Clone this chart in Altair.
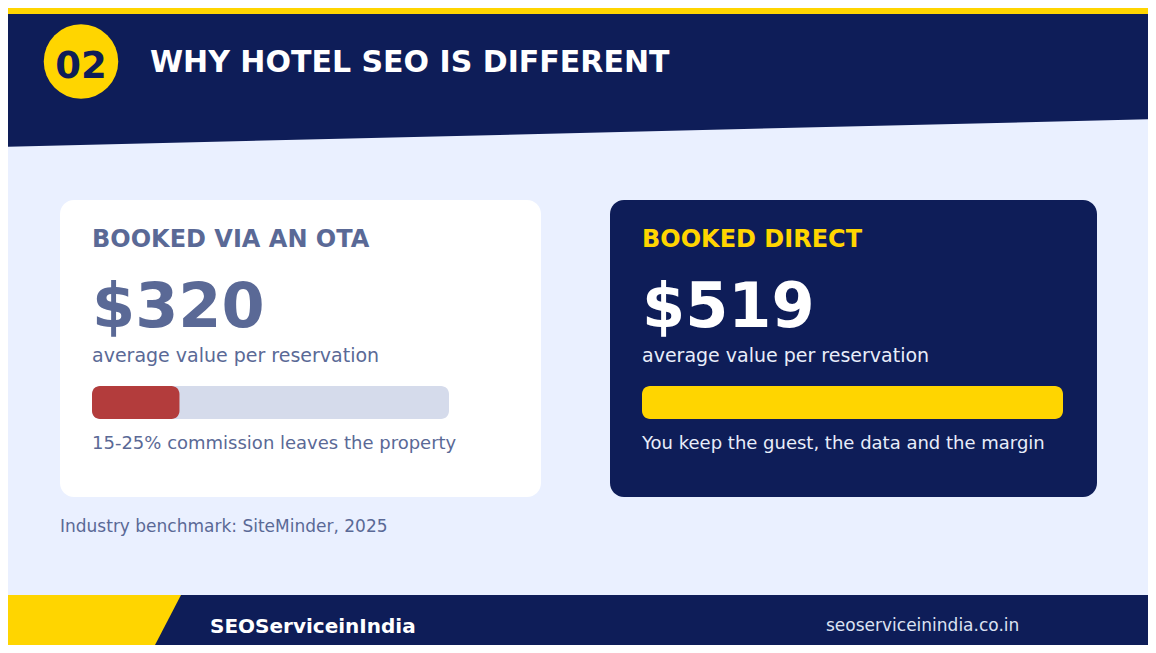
import altair as alt
import pandas as pd

# ---------------- data ----------------
card_titles = ["BOOKED VIA AN OTA", "BOOKED DIRECT"]
card_values = [320, 519]
card_subtitles = ["average value per reservation", "average value per reservation"]
bar_shares = [0.245, 1.0]
card_notes = ["15-25% commission leaves the property",
              "You keep the guest, the data and the margin"]
section_number = "02"
section_title = "WHY HOTEL SEO IS DIFFERENT"
source_note = "Industry benchmark: SiteMinder, 2025"
brand_name = "SEOServiceinIndia"
brand_url = "seoserviceinindia.co.in"

# ---------------- layout / style ----------------
W, H = 1156, 653          # design canvas
M = 8                     # page margin
PW, PH = W - 2 * M, H - 2 * M

NAVY = "#0E1D58"
YELLOW = "#FFD500"
BG = "#EAF0FF"
SLATE = "#5A6996"
RED = "#B33C3C"
TRACK = "#D5DBEB"
LIGHT = "#E8EDFA"
FONT = "DejaVu Sans"

card_left = [60, 610]
card_right = [541, 1097]
card_fill = ["#FFFFFF", NAVY]
track_width = [357, 421]
title_color = [SLATE, YELLOW]
value_color = [SLATE, "#FFFFFF"]
body_color = [SLATE, LIGHT]
bar_color = [RED, YELLOW]

xs = alt.Scale(domain=[M, W - M], nice=False, zero=False)
ys = alt.Scale(domain=[M, H - M], nice=False, zero=False, reverse=True)


def X(f):
    return alt.X(f, type="quantitative", scale=xs, axis=None)


def Y(f):
    return alt.Y(f, type="quantitative", scale=ys, axis=None)


def rects(df, color_field=None, color=None, radius=0):
    enc = dict(x=X("x"), x2=alt.X2("x2"), y=Y("y"), y2=alt.Y2("y2"))
    if color_field:
        enc["color"] = alt.Color(color_field, type="nominal", scale=None)
        m = alt.Chart(df).mark_rect(cornerRadius=radius, clip=True)
    else:
        m = alt.Chart(df).mark_rect(cornerRadius=radius, color=color, clip=True)
    return m.encode(**enc)


def texts(df, size, weight="normal", align="left", color_field="c"):
    return alt.Chart(df).mark_text(
        font=FONT, fontSize=size, fontWeight=weight, align=align, baseline="alphabetic"
    ).encode(x=X("x"), y=Y("y"), text="t:N",
             color=alt.Color(color_field, type="nominal", scale=None))


layers = []

# top yellow strip
layers.append(rects(pd.DataFrame({"x": [0], "x2": [W], "y": [0], "y2": [16]}), color=YELLOW))

# slanted navy header
header = pd.DataFrame({"x": [M, W - M], "top": [14, 14], "bot": [146.7, 119.3]})
layers.append(alt.Chart(header).mark_area(color=NAVY, opacity=1, clip=True).encode(
    x=X("x"), y=Y("bot"), y2=alt.Y2("top")))

# number badge
layers.append(alt.Chart(pd.DataFrame({"x": [81], "y": [61.5]})).mark_circle(
    size=5550, color=YELLOW, opacity=1).encode(x=X("x"), y=Y("y")))
layers.append(texts(pd.DataFrame({"x": [81], "y": [78], "t": [section_number], "c": [NAVY]}),
                    37, "bold", "center"))
layers.append(texts(pd.DataFrame({"x": [150], "y": [72], "t": [section_title], "c": ["#FFFFFF"]}),
                    30, "bold"))

# cards
cards = pd.DataFrame({"x": card_left, "x2": card_right, "y": [200, 200], "y2": [497, 497],
                      "c": card_fill})
layers.append(rects(cards, color_field="c", radius=14))

# bars
bx = [l + 32 for l in card_left]
tracks = pd.DataFrame({"x": [bx[0]], "x2": [bx[0] + track_width[0]], "y": [386], "y2": [419]})
layers.append(rects(tracks, color=TRACK, radius=8))
fills = pd.DataFrame({"x": bx,
                      "x2": [b + s * w for b, s, w in zip(bx, bar_shares, track_width)],
                      "y": [386, 386], "y2": [419, 419], "c": bar_color})
layers.append(rects(fills, color_field="c", radius=8))

# card texts
layers.append(texts(pd.DataFrame({"x": bx, "y": [247, 247], "t": card_titles, "c": title_color}),
                    24, "bold"))
layers.append(texts(pd.DataFrame({"x": bx, "y": [327, 327],
                                  "t": [f"${v}" for v in card_values], "c": value_color}),
                    62, "bold"))
layers.append(texts(pd.DataFrame({"x": bx, "y": [362, 362], "t": card_subtitles, "c": body_color}),
                    19))
layers.append(texts(pd.DataFrame({"x": bx, "y": [449, 449], "t": card_notes, "c": body_color}),
                    18))

# source
layers.append(texts(pd.DataFrame({"x": [60], "y": [532], "t": [source_note], "c": [SLATE]}), 17))

# footer
layers.append(rects(pd.DataFrame({"x": [0], "x2": [W], "y": [595], "y2": [H]}), color=NAVY))
foot = pd.DataFrame({"y": [595, H - M], "x": [M, M], "x2": [181, 155]})
layers.append(alt.Chart(foot).mark_area(color=YELLOW, orient="horizontal", opacity=1,
                                        clip=True).encode(
    y=Y("y"), x=X("x"), x2=alt.X2("x2")))
layers.append(texts(pd.DataFrame({"x": [210], "y": [633], "t": [brand_name], "c": ["#FFFFFF"]}),
                    20, "bold"))
layers.append(texts(pd.DataFrame({"x": [826], "y": [631], "t": [brand_url], "c": ["#DCE2F2"]}),
                    17))

chart = alt.layer(*layers).properties(
    width=PW, height=PH, padding=0, background=BG,
    autosize=alt.AutoSizeParams(type="none"),
).configure_view(stroke=None)

chart.save("out.html", embed_options={"renderer": "svg", "actions": False})
